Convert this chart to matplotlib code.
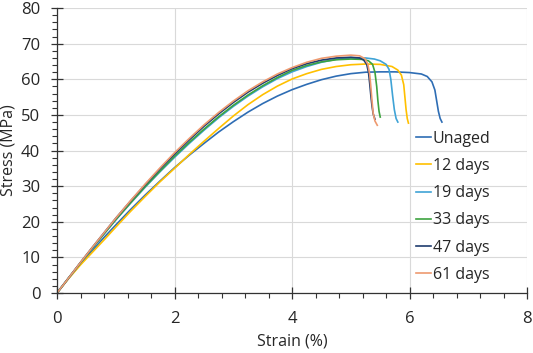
import matplotlib
matplotlib.use("Agg")
import matplotlib.pyplot as plt
from matplotlib.ticker import MultipleLocator

plt.rcParams['font.family'] = ['Open Sans', 'DejaVu Sans']

labels = ["Unaged", "12 days", "19 days", "33 days", "47 days", "61 days"]
colors = ["#2E6DB4", "#FFC000", "#3FA3D6", "#3DA33F", "#1F3C6E", "#EE9A70"]

unaged_x = [0, 0.2, 0.4, 0.6, 0.8, 1.0, 1.25, 1.5, 1.75, 2.0, 2.25, 2.5, 2.75, 3.0, 3.25, 3.5, 3.75, 4.0,
            4.25, 4.5, 4.75, 5.0, 5.25, 5.5, 5.75, 6.0, 6.2, 6.3, 6.38, 6.43, 6.46, 6.49, 6.52, 6.55]
unaged_y = [0, 4.2, 8.2, 11.9, 15.6, 19.1, 23.4, 27.5, 31.4, 35.2, 38.7, 42.0, 45.2, 48.1, 50.8, 53.2, 55.3, 57.1,
            58.6, 59.9, 60.9, 61.6, 62.0, 62.1, 62.1, 61.9, 61.5, 60.8, 59.3, 57.0, 54.0, 51.0, 49.0, 48.0]

d12_x = [0, 0.2, 0.4, 0.6, 0.8, 1.0, 1.25, 1.5, 1.75, 2.0, 2.25, 2.5, 2.75, 3.0, 3.25, 3.5, 3.75, 4.0,
         4.25, 4.5, 4.75, 5.0, 5.25, 5.5, 5.7, 5.8, 5.86, 5.9, 5.92, 5.94, 5.96, 5.98]
d12_y = [0, 4.1, 7.9, 11.4, 14.9, 18.5, 22.9, 27.1, 31.2, 35.0, 38.9, 42.6, 46.2, 49.7, 52.9, 55.7, 58.1, 60.1,
         61.6, 62.8, 63.6, 64.1, 64.3, 64.2, 63.6, 62.6, 61.2, 58.5, 55.0, 51.5, 49.0, 47.7]

d19_x = [0, 0.2, 0.4, 0.6, 0.8, 1.0, 1.25, 1.5, 1.75, 2.0, 2.25, 2.5, 2.75, 3.0, 3.25, 3.5, 3.75, 4.0,
         4.25, 4.5, 4.75, 5.0, 5.25, 5.4, 5.5, 5.6, 5.65, 5.68, 5.71, 5.74, 5.77, 5.8]
d19_y = [0, 4.3, 8.5, 12.6, 16.6, 20.5, 25.2, 29.7, 34.0, 38.1, 42.0, 45.7, 49.2, 52.4, 55.3, 57.9, 60.2, 62.1,
         63.6, 64.8, 65.6, 66.0, 66.0, 65.7, 65.2, 64.2, 62.8, 60.0, 55.5, 51.5, 49.0, 48.0]

d33_x = [0, 0.2, 0.4, 0.6, 0.8, 1.0, 1.25, 1.5, 1.75, 2.0, 2.25, 2.5, 2.75, 3.0, 3.25, 3.5, 3.75, 4.0,
         4.25, 4.5, 4.75, 5.0, 5.2, 5.3, 5.37, 5.41, 5.44, 5.46, 5.48, 5.5]
d33_y = [0, 4.3, 8.5, 12.6, 16.6, 20.6, 25.3, 29.9, 34.2, 38.4, 42.3, 46.0, 49.5, 52.7, 55.6, 58.2, 60.5, 62.5,
         63.9, 64.9, 65.5, 65.7, 65.6, 65.2, 64.2, 62.0, 58.0, 54.0, 51.0, 49.4]

d47_x = [0, 0.2, 0.4, 0.6, 0.8, 1.0, 1.25, 1.5, 1.75, 2.0, 2.25, 2.5, 2.75, 3.0, 3.25, 3.5, 3.75, 4.0,
         4.25, 4.5, 4.75, 5.0, 5.15, 5.22, 5.27, 5.3, 5.32, 5.34, 5.36, 5.38, 5.41]
d47_y = [0, 4.3, 8.6, 12.8, 16.9, 21.0, 25.8, 30.4, 34.8, 39.0, 43.0, 46.8, 50.3, 53.5, 56.4, 58.9, 61.1, 63.0,
         64.4, 65.4, 66.0, 66.2, 66.0, 65.4, 64.2, 62.0, 59.0, 55.5, 52.5, 50.3, 48.8]

d61_x = [0, 0.2, 0.4, 0.6, 0.8, 1.0, 1.25, 1.5, 1.75, 2.0, 2.25, 2.5, 2.75, 3.0, 3.25, 3.5, 3.75, 4.0,
         4.25, 4.5, 4.75, 5.0, 5.15, 5.24, 5.29, 5.32, 5.34, 5.36, 5.38, 5.41, 5.45]
d61_y = [0, 4.3, 8.6, 12.8, 16.9, 21.0, 25.9, 30.6, 35.1, 39.4, 43.4, 47.2, 50.7, 53.9, 56.8, 59.3, 61.5, 63.3,
         64.8, 65.9, 66.5, 66.8, 66.6, 65.8, 64.2, 61.5, 58.0, 54.0, 50.5, 48.3, 47.1]

series = [(unaged_x, unaged_y), (d12_x, d12_y), (d19_x, d19_y),
          (d33_x, d33_y), (d47_x, d47_y), (d61_x, d61_y)]

x_ticks = [0, 2, 4, 6, 8]
y_ticks = [0, 10, 20, 30, 40, 50, 60, 70, 80]

fig = plt.figure(figsize=(5.33, 3.53), dpi=100)
ax = fig.add_axes([0.107, 0.17, 0.882, 0.807])

for (xs, ys), lab, col in zip(series, labels, colors):
    ax.plot(xs, ys, color=col, lw=1.2, label=lab, solid_joinstyle='round')

ax.set_xlim(0, 8)
ax.set_ylim(0, 80)
ax.set_xticks(x_ticks)
ax.set_yticks(y_ticks)
ax.xaxis.set_minor_locator(MultipleLocator(0.4))
ax.yaxis.set_minor_locator(MultipleLocator(2))
ax.grid(True, which='major', color='#D9D9D9', lw=0.8)
ax.set_axisbelow(True)
for s in ['top', 'right']:
    ax.spines[s].set_visible(False)
for s in ['left', 'bottom']:
    ax.spines[s].set_color('#333333')
    ax.spines[s].set_linewidth(0.9)
ax.tick_params(which='major', direction='inout', length=8, width=0.9, color='#333333',
               labelsize=12, labelcolor='#262626')
ax.tick_params(which='minor', direction='out', length=3.5, width=0.8, color='#333333')
ax.tick_params(axis='x', which='major', pad=9)
ax.tick_params(axis='y', which='major', pad=8)

ax.set_xlabel("Strain (%)", fontsize=11.5, color='#262626', labelpad=5)
ax.set_ylabel("Stress (MPa)", fontsize=11.5, color='#262626', labelpad=3)

leg = ax.legend(loc='upper left', bbox_to_anchor=(0.764, 0.569), frameon=False,
                borderaxespad=0, borderpad=0,
                fontsize=11.5, handlelength=0.9, handletextpad=0.15, labelspacing=0.7)
for t in leg.get_texts():
    t.set_color('#262626')

fig.savefig("out.png", dpi=100)
